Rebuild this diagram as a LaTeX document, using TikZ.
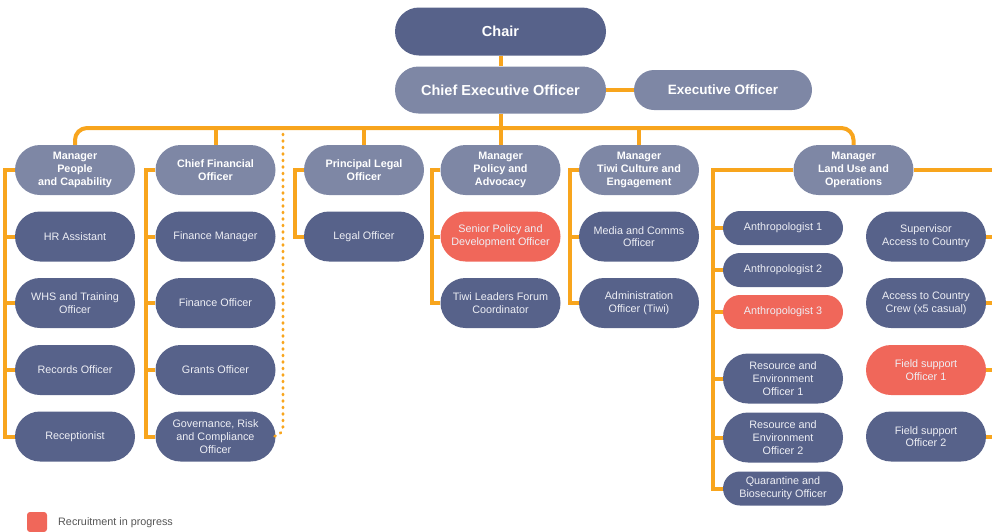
\documentclass[tikz,border=0pt]{standalone}
\usepackage{fontspec}
\setmainfont{Liberation Sans}
\definecolor{dk}{HTML}{57628A}
\definecolor{lt}{HTML}{7E87A5}
\definecolor{rd}{HTML}{F0675A}
\definecolor{org}{HTML}{F8A51D}
\definecolor{subtxt}{HTML}{EEEFF5}
\definecolor{legtxt}{HTML}{555555}
\begin{document}
\begin{tikzpicture}[x=1pt,y=-1pt,
  box/.style={inner sep=0pt, align=center, minimum width=120pt, minimum height=50pt, rounded corners=25pt},
  hdr/.style={box, fill=lt, text=white, font=\bfseries\fontsize{10.8}{12.7}\selectfont},
  sub/.style={box, fill=dk, text=subtxt, font=\fontsize{10.8}{12.7}\selectfont},
  slim/.style={minimum height=34pt, rounded corners=17pt},
  recruit/.style={fill=rd},
  topbox/.style={inner sep=0pt, align=center, text=white, font=\bfseries\fontsize{14.5}{17}\selectfont},
  conn/.style={draw=org, line width=4pt},
  dotline/.style={draw=org, line width=2.8pt, line cap=round, dash pattern=on 0.9pt off 5.6pt}]
\useasboundingbox (0,0) rectangle (992,531);
\clip (0,0) rectangle (992,531);

% top
\node[topbox, fill=dk, minimum width=211pt, minimum height=48pt, rounded corners=24pt] (chair) at (500.5,31.5) {Chair};
\node[topbox, fill=lt, minimum width=211pt, minimum height=47pt, rounded corners=23.5pt] (ceo) at (500.5,90) {Chief Executive Officer};
\node[topbox, fill=lt, minimum width=178pt, minimum height=40pt, rounded corners=20pt, font=\bfseries\fontsize{13.5}{16}\selectfont] (eo) at (723,90) {Executive Officer};

% headers
\node[hdr] (ppl) at (75,170) {Manager\\People\\and Capability};
\node[hdr] (cfo) at (215.5,170) {Chief Financial\\Officer};
\node[hdr] (plo) at (364,170) {Principal Legal\\Officer};
\node[hdr] (mpa) at (500.5,170) {Manager\\Policy and\\Advocacy};
\node[hdr] (mtc) at (639,170) {Manager\\Tiwi Culture and\\Engagement};
\node[hdr] (mlu) at (853.5,170) {Manager\\Land Use and\\Operations};

% column 1
\node[sub] (hr) at (75,236.5) {HR Assistant};
\node[sub] (whs) at (75,303) {WHS and Training\\Officer};
\node[sub] (rec) at (75,370) {Records Officer};
\node[sub] (recp) at (75,436.5) {Receptionist};
% column 2
\node[sub] (fm) at (215.5,236.5) {Finance Manager};
\node[sub] (fo) at (215.5,303) {Finance Officer};
\node[sub] (go) at (215.5,370) {Grants Officer};
\node[sub] (grc) at (215.5,436.5) {Governance, Risk\\and Compliance\\Officer};
% column 3
\node[sub] (lo) at (364,236.5) {Legal Officer};
% column 4
\node[sub, recruit] (spd) at (500.5,236.5) {Senior Policy and\\Development Officer};
\node[sub] (tlf) at (500.5,303) {Tiwi Leaders Forum\\Coordinator};
% column 5
\node[sub] (mco) at (639,236.5) {Media and Comms\\Officer};
\node[sub] (adm) at (639,303) {Administration\\Officer (Tiwi)};
% column 6 left
\node[sub, slim] (an1) at (783,228) {Anthropologist 1};
\node[sub, slim] (an2) at (783,270) {Anthropologist 2};
\node[sub, slim, recruit] (an3) at (783,312) {Anthropologist 3};
\node[sub] (reo1) at (783,378.5) {Resource and\\Environment\\Officer 1};
\node[sub] (reo2) at (783,437.5) {Resource and\\Environment\\Officer 2};
\node[sub, slim] (qbo) at (783,488.5) {Quarantine and\\Biosecurity Officer};
% column 6 right
\node[sub] (sac) at (926,236.5) {Supervisor\\Access to Country};
\node[sub] (acc) at (926,303) {Access to Country\\Crew (x5 casual)};
\node[sub, recruit] (fs1) at (926,370) {Field support\\Officer 1};
\node[sub] (fs2) at (926,436.5) {Field support\\Officer 2};

% legend
\node[fill=rd, rounded corners=3pt, minimum size=20pt, inner sep=0pt] (leg) at (37,522) {};
\node[anchor=west, inner sep=0pt, text=legtxt, font=\fontsize{10.8}{12.7}\selectfont] (legt) at (58,523) {Recruitment in progress};

% coordinates
\coordinate (busy) at (0,128);
\coordinate (c1) at (5,0);
\coordinate (c2) at (146,0);
\coordinate (c3) at (295,0);
\coordinate (c4) at (432,0);
\coordinate (c5) at (570,0);
\coordinate (c6) at (713,0);
\coordinate (edge) at (1000,0);
\coordinate (dtop) at (283,134);

% connectors top
\draw[conn] (chair.south) -- (ceo.north);
\draw[conn] (ceo.east) -- (eo.west);
\draw[conn] (ceo.south) -- (ceo.south |- busy);
\draw[conn, rounded corners=12pt] (ppl.north) -- (ppl.north |- busy) -- (mlu.north |- busy) -- (mlu.north);
\draw[conn] (cfo.north) -- (cfo.north |- busy);
\draw[conn] (plo.north) -- (plo.north |- busy);
\draw[conn] (mpa.north) -- (mpa.north |- busy);
\draw[conn] (mtc.north) -- (mtc.north |- busy);
\draw[dotline, rounded corners=10pt] (dtop) |- (grc.east);

% column connectors
\draw[conn] (ppl.west) -| (c1 |- recp.west) -- (recp.west);
\foreach \n in {hr,whs,rec} \draw[conn] (c1 |- \n.west) -- (\n.west);
\draw[conn] (cfo.west) -| (c2 |- grc.west) -- (grc.west);
\foreach \n in {fm,fo,go} \draw[conn] (c2 |- \n.west) -- (\n.west);
\draw[conn] (plo.west) -| (c3 |- lo.west) -- (lo.west);
\draw[conn] (mpa.west) -| (c4 |- tlf.west) -- (tlf.west);
\draw[conn] (c4 |- spd.west) -- (spd.west);
\draw[conn] (mtc.west) -| (c5 |- adm.west) -- (adm.west);
\draw[conn] (c5 |- mco.west) -- (mco.west);
\draw[conn] (mlu.west) -| (c6 |- qbo.west) -- (qbo.west);
\foreach \n in {an1,an2,an3,reo1,reo2} \draw[conn] (c6 |- \n.west) -- (\n.west);
\draw[conn] (mlu.east) -| (edge |- fs2.east) -- (fs2.east);
\foreach \n in {sac,acc,fs1} \draw[conn] (\n.east) -- (\n.east -| edge);
\end{tikzpicture}
\end{document}
